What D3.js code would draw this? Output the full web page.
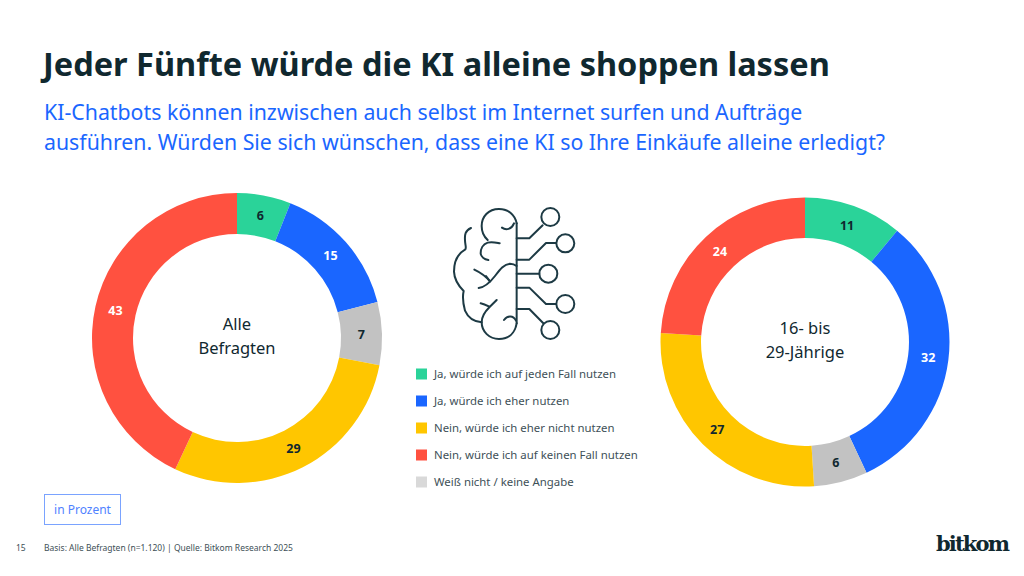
<!DOCTYPE html>
<html><head><meta charset="utf-8">
<script src="https://cdn.jsdelivr.net/npm/d3@7"></script>
<style>
html,body{margin:0;padding:0;background:#fff}
svg{display:block}
text{font-family:"Noto Sans",sans-serif}
</style></head><body>
<svg id="c" width="1024" height="576"></svg>
<script>
const categories=["Ja, würde ich auf jeden Fall nutzen","Ja, würde ich eher nutzen","Weiß nicht / keine Angabe","Nein, würde ich eher nicht nutzen","Nein, würde ich auf keinen Fall nutzen"];
const legendOrder=[0,1,3,4,2];
const colors=["#2ad399","#1a66ff","#c2c2c2","#ffc600","#ff5140"];
const legendColors=["#2ad399","#1a66ff","#d9d9d9","#ffc600","#ff5140"];
const allValues=[6,15,7,29,43];
const youngValues=[11,32,6,27,24];
const darkColor="#10282f", blue="#1a66ff", greyText="#3e5057";

const svg=d3.select("#c");
svg.append("text").attr("x",43).attr("y",76).attr("font-size",32.5).attr("font-weight",700).attr("fill",darkColor).text("Jeder Fünfte würde die KI alleine shoppen lassen");
const sub=["KI-Chatbots können inzwischen auch selbst im Internet surfen und Aufträge","ausführen. Würden Sie sich wünschen, dass eine KI so Ihre Einkäufe alleine erledigt?"];
svg.selectAll(".sub").data(sub).join("text").attr("class","sub").attr("x",44).attr("y",(d,i)=>120+i*30).attr("font-size",21.3).attr("fill",blue).text(d=>d);

function donut(values,cx,cy,R,r,labelLines){
  const g=svg.append("g").attr("transform",`translate(${cx},${cy})`);
  const pie=d3.pie().sort(null)(values);
  const arc=d3.arc().innerRadius(r).outerRadius(R);
  const la=d3.arc().innerRadius((R+r)/2).outerRadius((R+r)/2);
  g.selectAll("path").data(pie).join("path").attr("d",arc).attr("fill",(d,i)=>colors[i]);
  g.selectAll(".v").data(pie).join("text").attr("class","v")
   .attr("transform",d=>`translate(${la.centroid(d)})`).attr("text-anchor","middle").attr("dy","0.36em")
   .attr("font-size",12.5).attr("font-weight",700)
   .attr("fill",(d,i)=>(i===1||i===4)?"#fff":darkColor).text(d=>d.value);
  g.selectAll(".c").data(labelLines).join("text").attr("class","c").attr("text-anchor","middle")
   .attr("y",(d,i)=>-8+i*24).attr("font-size",16.5).attr("fill",darkColor).text(d=>d);
}
donut(allValues,237,338,145,104,["Alle","Befragten"]);
donut(youngValues,805,342,144.5,104,["16- bis","29-Jährige"]);

const lg=svg.append("g");
legendOrder.forEach((k,i)=>{
  const y=374+i*27;
  lg.append("rect").attr("x",416).attr("y",y-5.5).attr("width",11).attr("height",11).attr("fill",legendColors[k]);
  lg.append("text").attr("x",434).attr("y",y+4).attr("font-size",11.4).attr("fill",greyText).text(categories[k]);
});

const ic=svg.append("g").attr("transform","translate(430,190) scale(0.3333)").attr("fill","none").attr("stroke","#1d3a44").attr("stroke-width",6).attr("stroke-linecap","round").attr("stroke-linejoin","round");
[
"M260 100V400",
"M260 100C255 75 235 57 207 57C175 57 155 80 155 108C155 125 162 140 173 150",
"M216 113C228 122 245 118 252 100",
"M209 160C195 157 185 154 173 158C158 163 152 178 152 190C153 200 163 208 175 210",
"M123 114C105 122 104 135 105 150C105 165 110 172 106 178C85 190 72 215 72 245C73 270 88 290 101 303C97 320 99 340 105 362C115 385 130 395 155 397",
"M133 239C150 247 168 260 180 274",
"M146 294C165 292 178 280 195 258C210 238 222 222 240 221C250 221 255 224 260 228",
"M168 258L180 274",
"M152 340C162 342 170 346 178 350",
"M200 330L178 352C165 365 155 380 155 397C155 425 178 447 207 447C235 447 255 430 260 400",
"M222 390C232 376 250 376 258 392",
"M260 145H298L338 106",
"M260 209H298L348 159H378",
"M260 251H328",
"M260 293H298L348 342H378",
"M260 357H298L340 400"
].forEach(d=>ic.append("path").attr("d",d));
[[361,81],[406,160],[355,251],[406,342],[361,420]].forEach(p=>ic.append("circle").attr("cx",p[0]).attr("cy",p[1]).attr("r",27));

svg.append("rect").attr("x",44.5).attr("y",494.5).attr("width",76).attr("height",30).attr("fill","#fff").attr("stroke","#7aa3ff").attr("stroke-width",1);
svg.append("text").attr("x",82.5).attr("y",514).attr("text-anchor","middle").attr("font-size",12).attr("fill","#4f82ff").text("in Prozent");
svg.append("text").attr("x",16).attr("y",551).attr("font-size",8.5).attr("fill",greyText).text("15");
svg.append("text").attr("x",44).attr("y",551).attr("font-size",8.5).attr("fill",greyText).text("Basis: Alle Befragten (n=1.120) | Quelle: Bitkom Research 2025");
svg.append("text").attr("x",936).attr("y",551).attr("font-size",21).attr("font-weight",700).attr("style",'font-family:"DejaVu Serif","Liberation Serif",serif').attr("fill",darkColor).attr("textLength",74).text("bitkom");
</script>
</body></html>
